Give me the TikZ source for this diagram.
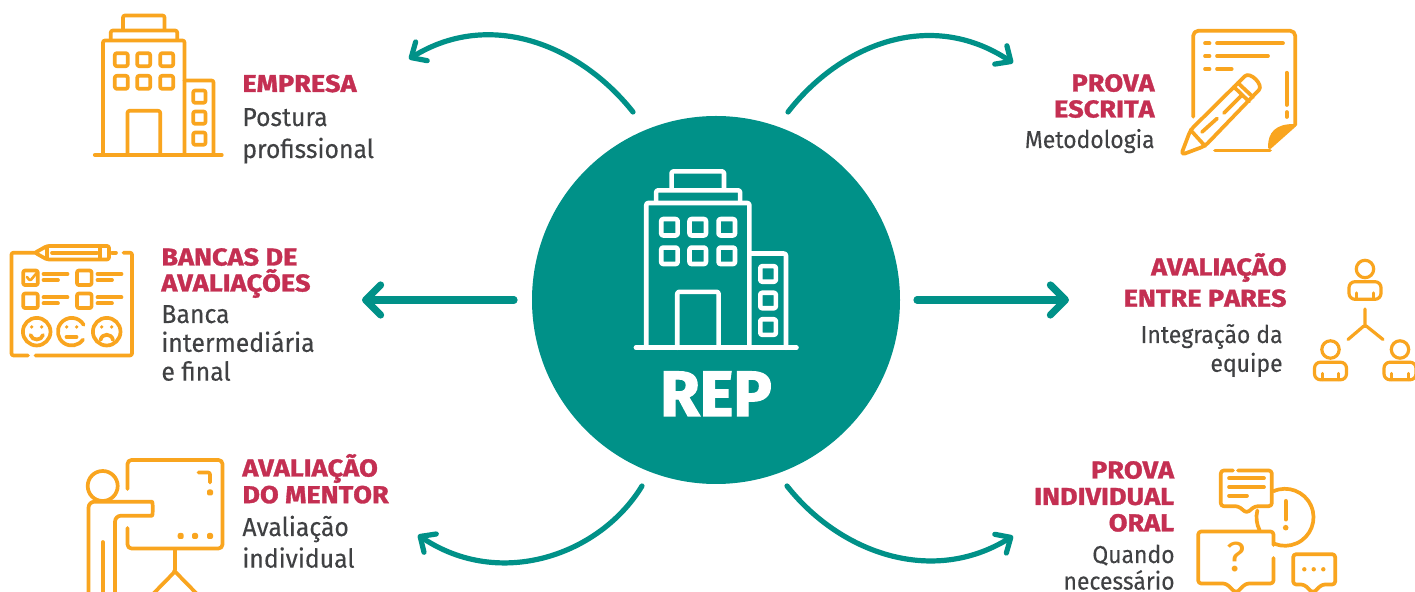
\documentclass[tikz,border=0pt]{standalone}
\usepackage{fontspec}
\setmainfont{Fira Sans}
\newfontfamily\ttlfont[FakeBold=1.3,FakeStretch=1.11,Kerning=Off]{Fira Sans Bold}
\newfontfamily\repfont[FakeBold=2]{Fira Sans Bold}
\newfontfamily\bodyfont[FakeBold=0.2,FakeStretch=0.953]{Fira Sans}
\newfontfamily\bodyfontr[FakeBold=0.2,FakeStretch=0.94]{Fira Sans}
\usetikzlibrary{arrows.meta}
\definecolor{teal1}{HTML}{009188}
\definecolor{orange1}{HTML}{F9A51F}
\definecolor{crim}{HTML}{C42F52}
\definecolor{gray1}{HTML}{404143}
\newcommand\lstack[2]{\vtop{\baselineskip=#1\lineskiplimit=-20pt\halign{##\hfil\cr #2\cr}}}
\newcommand\rstack[2]{\vtop{\baselineskip=#1\lineskiplimit=-20pt\halign{\hfil##\cr #2\cr}}}
\newcommand\buildingicon{%
  \draw (123,29) -- (123,15.5) -- (164.5,15.5) -- (164.5,29);
  \draw (110.8,40) -- (110.8,30.5) -- (177.2,30.5) -- (177.2,40);
  \draw (103,155) -- (103,40.5) -- (184.5,40.5) -- (184.5,155);
  \draw (184.5,80.5) -- (213.5,80.5) -- (213.5,155);
  \draw (94.8,155) -- (221.8,155);
  \draw (127.5,155) -- (127.5,110.8) -- (160.2,110.8) -- (160.2,155);
  \foreach \wx in {114.8,137.2,160.2}{\foreach \wy in {53.2,75.8}{\draw (\wx,\wy) rectangle ++(13,13);}}
  \foreach \wy in {90.5,111.5,132.5}{\draw (193.2,\wy) rectangle ++(12.3,12.3);}
}
\newcommand\peer[2]{%
  \draw (#1,#2) circle[radius=8.7];
  \draw[rounded corners=3pt] (#1,#2+12.7) -- (#1+16,#2+12.7) -- (#1+16,#2+30.3) -- (#1-16,#2+30.3) -- (#1-16,#2+12.7) -- (#1,#2+12.7);
  \draw (#1-8.3,#2+24) -- (#1-8.3,#2+30) (#1+8.3,#2+24) -- (#1+8.3,#2+30);
}
\tikzset{
  x=0.5pt,y=-0.5pt,
  icon/.style={draw=orange1,line width=1.85pt,line cap=round,line join=round,rounded corners=1pt},
  whiteicon/.style={draw=white,line width=2.3pt,line cap=round,line join=round,rounded corners=1pt},
  thin icon/.style={icon,line width=1.6pt},
  flow/.style={draw=teal1,line width=2.6pt,line cap=round,-{Straight Barb[round,length=6pt,width=11pt]}},
  flowbig/.style={draw=teal1,line width=3.6pt,line cap=round,-{Straight Barb[round,length=7.5pt,width=15pt]}},
  ttl w/.style={anchor=base west,inner sep=0pt,text=crim,font=\fontsize{12.2}{13}\ttlfont},
  ttl e/.style={anchor=base east,inner sep=0pt,text=crim,font=\fontsize{12.2}{13}\ttlfont},
  bod w/.style={anchor=base west,inner sep=0pt,text=gray1,font=\fontsize{13}{15}\bodyfont},
  bod e/.style={anchor=base east,inner sep=0pt,text=gray1,font=\fontsize{12.2}{15}\bodyfontr},
}
\begin{document}
\begin{tikzpicture}
\clip (0,0) rectangle (1415,592);
\fill[white] (0,0) rectangle (1415,592);
% centre
\node[circle,fill=teal1,minimum size=184pt,inner sep=0pt] (hub) at (716,300) {};
\begin{scope}[shift={(516.1,151.8)},scale=1.264,every path/.append style={whiteicon}]
\buildingicon
\end{scope}
\node[anchor=base,inner sep=0pt,text=white,font=\fontsize{32}{34}\repfont] (rep) at (716,416) {REP};
% connectors
\coordinate (a1) at (633,112); \coordinate (a2) at (409,59);
\coordinate (b1) at (788,112); \coordinate (b2) at (1013,63);
\coordinate (c1) at (642,486); \coordinate (c2) at (418,535);
\coordinate (d1) at (787,486); \coordinate (d2) at (1013,536);
\coordinate (e1) at (514,300); \coordinate (e2) at (362,300);
\coordinate (f1) at (917,300); \coordinate (f2) at (1069,300);
\draw[flow] (a1) .. controls (580,45) and (490,9) .. (a2);
\draw[flow] (b1) .. controls (840,45) and (930,8) .. (b2);
\draw[flow] (c1) .. controls (600,555) and (500,590) .. (c2);
\draw[flow] (d1) .. controls (840,553) and (932,586) .. (d2);
\draw[flowbig] (e1) -- (e2);
\draw[flowbig] (f1) -- (f2);
% labels
\node[ttl w] (t1) at (242,92) {EMPRESA};
\node[bod w] (l1) at (242,126) {\lstack{16pt}{Postura\cr profissional}};
\node[ttl w] (t2) at (161,265.5) {\lstack{13pt}{BANCAS DE\cr AVALIAÇÕES}};
\node[bod w] (l2) at (161,323) {\lstack{14.4pt}{Banca\cr intermediária\cr e final}};
\node[ttl w] (t3) at (242,476.5) {\lstack{13.3pt}{AVALIAÇÃO\cr DO MENTOR}};
\node[bod w] (l3) at (242,536) {\lstack{15.8pt}{Avaliação\cr individual}};
\node[ttl e] (t4) at (1155,91.5) {\rstack{13pt}{PROVA\cr ESCRITA}};
\node[bod e] (l4) at (1155,148) {Metodologia};
\node[ttl e] (t5) at (1287,275.5) {\rstack{15.6pt}{AVALIAÇÃO\cr ENTRE PARES}};
\node[bod e] (l5) at (1283,343) {\rstack{14.4pt}{Integração da\cr equipe}};
\node[ttl e] (t6) at (1174.5,478.5) {\rstack{13.2pt}{PROVA\cr INDIVIDUAL\cr ORAL}};
\node[bod e] (l6) at (1175,563) {\rstack{13.3pt}{Quando\cr necessário}};
% building icon
\begin{scope}[every path/.append style={icon}]
\buildingicon
\end{scope}
% evaluation form icon
\begin{scope}[every path/.append style={icon}]
\draw (36,252.7) -- (11.5,252.7) -- (11.5,355.5) -- (28,355.5);
\draw (35.5,355.5) -- (132,355.5) -- (132,252.7) -- (123.5,252.7);
\draw (112,252.7) -- (116,252.7);
\draw (35,252.7) -- (47,246) -- (109,246) -- (109,259.5) -- (47,259.5) -- cycle;
\draw (47,246.5) -- (47,259) (100,246.5) -- (100,259) (52,252.7) -- (97,252.7);
\foreach \bx/\by in {23.2/270.5,77/270.5,23.2/293.5,77/293.5}{\draw (\bx,\by) rectangle ++(14.6,14.6);}
\draw[line width=1.3pt] (27,277) -- (30,281) -- (37.5,272);
\foreach \lx/\ly in {43.5/274,97.5/274,43.5/297.3,97.5/297.3}{
  \draw (\lx,\ly) -- ++(24,0);
  \draw (\lx,\ly+6) -- ++(14.5,0);
}
\draw (36.7,331.7) circle[radius=13.8];
\draw (106.7,331.7) circle[radius=13.8];
\draw (71.7,331.7) +(35:13.8) arc[start angle=35,end angle=330,radius=13.8];
\foreach \fx in {36.7,71.7,106.7}{\fill[orange1,draw=none] (\fx-5,327) circle[radius=1.8] (\fx+5,327) circle[radius=1.8];}
\draw (30.5,335) .. controls (32,341) and (41.5,341) .. (43,335);
\draw (66.5,337) -- (76.5,337);
\draw (100.5,340) .. controls (102,333) and (111.5,333) .. (113,340);
\end{scope}
% mentor icon
\begin{scope}[every path/.append style={icon}]
\draw[rounded corners=2pt] (127.5,489) -- (127.5,460) -- (222.5,460) -- (222.5,548.5) -- (127.5,548.5) -- (127.5,528);
\draw (102.7,486) circle[radius=15];
\draw[rounded corners=3pt] (88.5,600) -- (88.5,501.7) -- (146,501.7) .. controls (153,501.7) and (153,515.7) .. (146,515.7) -- (115,515.7) -- (115,600);
\draw (102.7,542) -- (102.7,600);
\draw (175,550) -- (175,571.5) -- (153,594) (175,571.5) -- (197,594);
\draw (198.5,472.5) -- (210,472.5) -- (210,482.5);
\fill[orange1,draw=none] (207,489.5) rectangle ++(6,6) (177.7,533) rectangle ++(6,6) (192,533) rectangle ++(6,6) (207,533) rectangle ++(6,6);
\end{scope}
% document icon
\begin{scope}[every path/.append style={icon}]
\draw[rounded corners=2.5pt] (1193.2,116.7) -- (1193.2,30.8) -- (1295.2,30.8) -- (1295.2,125);
\draw (1215,150.5) -- (1270,150.5);
\fill[orange1,draw=orange1,line width=1pt] (1269,149) .. controls (1269,133) and (1276,125) .. (1296,125) -- cycle;
\foreach \ly/\lx in {43.3/1283,56/1268,69/1231.7}{
  \draw (1205,\ly) -- (1209.5,\ly);
  \draw (1217,\ly) -- (\lx,\ly);
}
\draw (1286.7,72.7) -- (1286.7,105) (1286.7,112) -- (1286.7,117);
\draw[rounded corners=2pt] (1190.5,130) -- (1242,79) .. controls (1250,71) and (1264,85) .. (1256,93) -- (1205,146) -- (1181,155) -- cycle;
\draw (1190.5,130) -- (1205,146);
\draw (1234,87) -- (1249,101.5);
\draw (1238,83) -- (1253,97);
\draw (1224,113) -- (1241,96) (1202,132) -- (1217,118.5);
\end{scope}
% peers icon
\begin{scope}[every path/.append style={thin icon}]
\peer{1365}{269}
\peer{1330.5}{349.5}
\peer{1400}{349.5}
\draw (1365,309) -- (1365,325) (1348,339.5) -- (1365,325) -- (1383,339.5);
\end{scope}
% speech icon
\begin{scope}[every path/.append style={icon}]
\draw[rounded corners=1.5pt] (1233,470.5) -- (1220.8,470.5) -- (1220.8,506.2) -- (1238.3,506.2) -- (1246.7,513) -- (1255,506.2) -- (1271.8,506.2) -- (1271.8,470.5) -- (1238,470.5);
\draw (1229,478.3) -- (1264,478.3) (1229,487) -- (1264,487) (1229,495.7) -- (1247,495.7);
\draw (1285,517.3) +(-114:28.5) arc[start angle=-114,end angle=111,radius=28.5];
\draw (1285,517.3) +(153:28.5) arc[start angle=153,end angle=194,radius=28.5];
\draw[line width=2pt] (1285.7,501) -- (1285.7,519.5);
\fill[orange1,draw=none] (1285.7,527.7) circle[radius=2.8];
\draw[rounded corners=1.5pt] (1273.5,545) -- (1273.5,531.5) -- (1198.2,531.5) -- (1198.2,583.5) -- (1226,583.5) -- (1236,593) -- (1246,583.5) -- (1273.5,583.5) -- (1273.5,558);
\draw[rounded corners=1.5pt] (1300,554.2) -- (1335.2,554.2) -- (1335.2,584.5) -- (1322,584.5) -- (1313,593) -- (1304,584.5) -- (1293.2,584.5) -- (1293.2,554.2) -- (1300,554.2);
\fill[orange1,draw=none] (1304.3,569.3) circle[radius=2.2] (1313.7,569.3) circle[radius=2.2] (1323.3,569.3) circle[radius=2.2];
\end{scope}
\node[anchor=base,inner sep=0pt,text=orange1,font=\fontsize{21}{22}\selectfont] (qm) at (1236,572) {?};
\end{tikzpicture}
\end{document}
